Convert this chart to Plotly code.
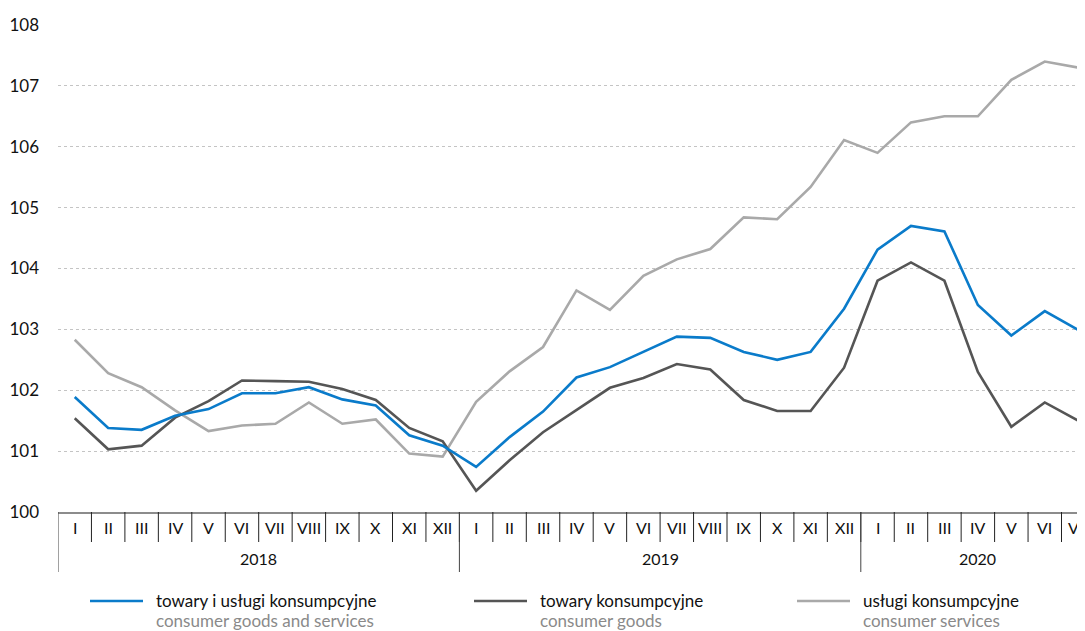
import plotly.graph_objects as go

# ---- data ----
months = ["I", "II", "III", "IV", "V", "VI", "VII", "VIII", "IX", "X", "XI", "XII",
          "I", "II", "III", "IV", "V", "VI", "VII", "VIII", "IX", "X", "XI", "XII",
          "I", "II", "III", "IV", "V", "VI", "VII"]
years = ["2018", "2019", "2020"]
months_per_year = [12, 12, 7]

goods_services = [101.89, 101.38, 101.35, 101.58, 101.69, 101.95, 101.95, 102.05, 101.85, 101.75, 101.26, 101.09,
                  100.74, 101.23, 101.65, 102.21, 102.38, 102.63, 102.88, 102.86, 102.63, 102.50, 102.63, 103.34,
                  104.31, 104.70, 104.61, 103.40, 102.90, 103.30, 102.99]
goods = [101.54, 101.03, 101.09, 101.55, 101.82, 102.16, 102.15, 102.14, 102.02, 101.84, 101.38, 101.16,
         100.35, 100.85, 101.31, 101.68, 102.04, 102.20, 102.43, 102.34, 101.84, 101.66, 101.66, 102.37,
         103.80, 104.10, 103.80, 102.30, 101.40, 101.80, 101.50]
services = [102.83, 102.28, 102.05, 101.67, 101.33, 101.42, 101.45, 101.80, 101.45, 101.52, 100.96, 100.91,
            101.81, 102.31, 102.71, 103.64, 103.32, 103.88, 104.15, 104.32, 104.84, 104.81, 105.34, 106.11,
            105.90, 106.40, 106.50, 106.50, 107.10, 107.40, 107.30]

series_pl = ["towary i usługi konsumpcyjne", "towary konsumpcyjne", "usługi konsumpcyjne"]
series_en = ["consumer goods and services", "consumer goods", "consumer services"]
y_ticks = [100, 101, 102, 103, 104, 105, 106, 107, 108]

# ---- style ----
FONT = "Lato"
colors = ["#0a7bca", "#555555", "#a9a9a9"]
W, H = 1085, 631
OFF = 8  # page body margin offset (screen px - figure px)
# targets in screen pixels
SCR_LEFT, SCR_TOP, SCR_BOTTOM = 58, 25, 512
L = SCR_LEFT - OFF
T = SCR_TOP - OFF
B = H - (SCR_BOTTOM - OFF)
R = 0
plot_w = W - L - R
plot_h = H - T - B
cell = 33.45

x = list(range(len(months)))
fig = go.Figure()
for vals, col in [(services, colors[2]), (goods, colors[1]), (goods_services, colors[0])]:
    fig.add_trace(go.Scatter(x=x, y=vals, mode="lines",
                             line=dict(color=col, width=2.6), showlegend=False,
                             hoverinfo="skip"))


def py(pix):
    """screen pixel y -> paper y"""
    return (H - B - (pix - OFF)) / plot_h


def px(pix):
    """screen pixel x -> paper x"""
    return ((pix - OFF) - L) / plot_w


shapes = []
annotations = []
# month separators and labels
for i, m in enumerate(months):
    shapes.append(dict(type="line", xref="x", yref="paper", x0=i + 0.5, x1=i + 0.5,
                       y0=0, y1=py(542), line=dict(color="#222222", width=1)))
    annotations.append(dict(x=i, y=py(527), xref="x", yref="paper", text=m, showarrow=False,
                            font=dict(family=FONT, size=16, color="#111111"),
                            xanchor="center", yanchor="middle"))
# year separators and labels
start = 0
for yr, n in zip(years, months_per_year):
    shapes.append(dict(type="line", xref="x", yref="paper", x0=start - 0.5, x1=start - 0.5,
                       y0=0, y1=py(572), line=dict(color="#444444", width=1)))
    annotations.append(dict(x=start + (n - 1) / 2, y=py(558), xref="x", yref="paper", text=yr,
                            showarrow=False, font=dict(family=FONT, size=16, color="#111111"),
                            xanchor="center", yanchor="middle"))
    start += n

# manual legend
leg_x = [90, 474, 797]
for i in range(3):
    shapes.append(dict(type="line", xref="paper", yref="paper",
                       x0=px(leg_x[i]), x1=px(leg_x[i] + 53), y0=py(601), y1=py(601),
                       line=dict(color=colors[i], width=2.6)))
    annotations.append(dict(x=px(leg_x[i] + 64), y=py(600), xref="paper", yref="paper",
                            text=series_pl[i], showarrow=False, xanchor="left", yanchor="middle",
                            font=dict(family=FONT, size=17, color="#111111")))
    annotations.append(dict(x=px(leg_x[i] + 64), y=py(620), xref="paper", yref="paper",
                            text=series_en[i], showarrow=False, xanchor="left", yanchor="middle",
                            font=dict(family=FONT, size=17, color="#8a8a8a")))

fig.update_layout(
    width=W, height=H,
    margin=dict(l=L, r=R, t=T, b=B, autoexpand=False),
    paper_bgcolor="white", plot_bgcolor="white",
    shapes=shapes, annotations=annotations,
    xaxis=dict(range=[-0.5, -0.5 + plot_w / cell], showticklabels=False, showgrid=False,
               zeroline=False, showline=True, linecolor="#8c8c8c", linewidth=2, ticks="",
               automargin=False),
    yaxis=dict(range=[100, 108], tickvals=y_ticks, showgrid=True, gridcolor="#c4c4c4",
               griddash="dot", gridwidth=1, zeroline=False, showline=False, ticks="",
               ticklabelstandoff=18, automargin=False,
               tickfont=dict(family=FONT, size=17, color="#111111")),
)
fig.write_html("out.html")
